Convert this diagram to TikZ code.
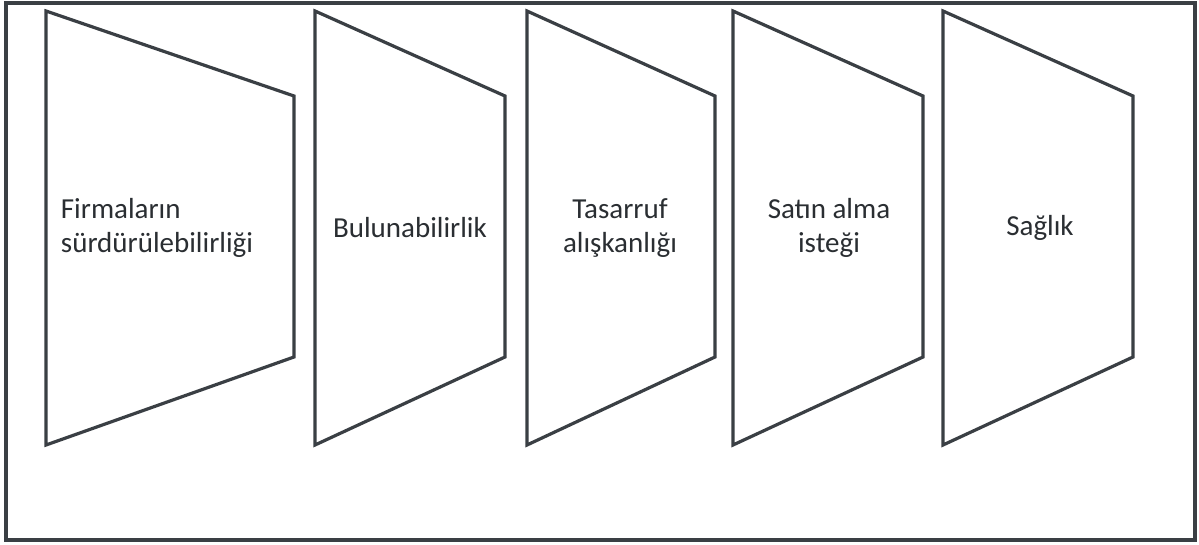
\documentclass[tikz,border=0pt]{standalone}
\usepackage{fontspec}
\setmainfont{Carlito}
\usepackage{xcolor}
\usepackage{tikz}
\usetikzlibrary{positioning}

\definecolor{edgegray}{HTML}{3A3F44}
\definecolor{textgray}{HTML}{2A2E32}

\begin{document}
\begin{tikzpicture}[
  x=1pt, y=-1pt,
  frame/.style={draw=edgegray, line width=3.4pt},
  panel/.style={draw=edgegray, line width=3.2pt, line join=miter, fill=white},
  lbl/.style={font=\fontsize{29}{34}\selectfont, text=textgray, align=center, inner sep=0pt}
]
  \useasboundingbox (0,0) rectangle (1199,545);
  \draw[frame] (6,3) rectangle (1195,540);

  % panels
  \draw[panel] (46,11) -- (294,96) -- (294,357) -- (46,445) -- cycle;
  \draw[panel] (315,11) -- (505,96) -- (505,357) -- (315,445) -- cycle;
  \draw[panel] (527,11) -- (715,96) -- (715,357) -- (527,445) -- cycle;
  \draw[panel] (733,11) -- (923,96) -- (923,357) -- (733,445) -- cycle;
  \draw[panel] (943,11) -- (1133,96) -- (1133,357) -- (943,445) -- cycle;

  % labels
  \node[lbl, align=left] (firma)  at (157,228) {Firmaların\\sürdürülebilirliği};
  \node[lbl] (bulun)  at (410,228) {Bulunabilirlik};
  \node[lbl] (tasar)  at (620,228) {Tasarruf\\alışkanlığı};
  \node[lbl] (satin)  at (829,228) {Satın alma\\isteği};
  \node[lbl] (saglik) at (1040,228) {Sağlık};
\end{tikzpicture}
\end{document}
